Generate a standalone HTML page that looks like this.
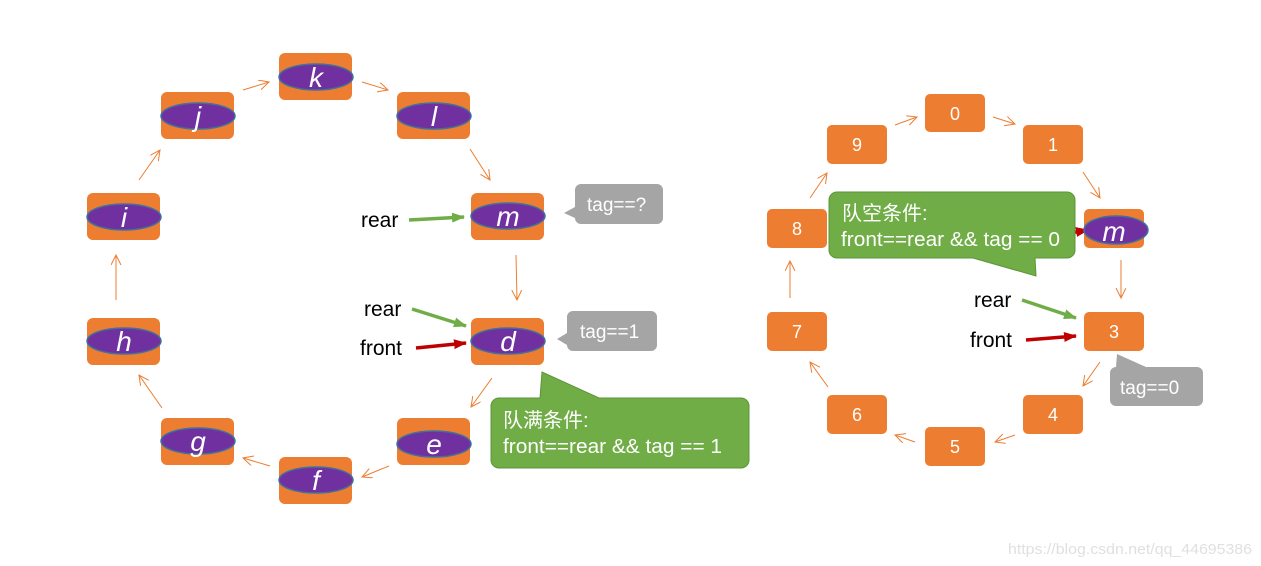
<!DOCTYPE html>
<html><head><meta charset="utf-8"><style>
body{margin:0;background:#fff}
svg{display:block}
.t{font-family:"Liberation Sans","Noto Sans CJK SC",sans-serif}
</style></head><body>
<svg width="1261" height="566" viewBox="0 0 1261 566" xmlns="http://www.w3.org/2000/svg">
<defs>
<marker id="oa" markerWidth="12" markerHeight="12" refX="10" refY="5" orient="auto" markerUnits="userSpaceOnUse"><polyline points="0,0 10,5 0,10" fill="none" stroke="#ED7D31" stroke-width="1"/></marker>
<marker id="ga" markerWidth="14" markerHeight="12" refX="12" refY="5" orient="auto" markerUnits="userSpaceOnUse"><polygon points="0,0 13,5 0,10" fill="#70AD47"/></marker>
<marker id="ra" markerWidth="14" markerHeight="12" refX="12" refY="5" orient="auto" markerUnits="userSpaceOnUse"><polygon points="0,0 13,5 0,10" fill="#C00000"/></marker>
</defs>
<g fill="#ED7D31">
<rect x="279" y="53" width="73" height="47" rx="6"/>
<rect x="161" y="92" width="73" height="47" rx="6"/>
<rect x="397" y="92" width="73" height="47" rx="6"/>
<rect x="87" y="193" width="73" height="47" rx="6"/>
<rect x="471" y="193" width="73" height="47" rx="6"/>
<rect x="87" y="318" width="73" height="47" rx="6"/>
<rect x="471" y="318" width="73" height="47" rx="6"/>
<rect x="161" y="418" width="73" height="47" rx="6"/>
<rect x="397" y="418" width="73" height="47" rx="6"/>
<rect x="279" y="457" width="73" height="47" rx="6"/>
</g>
<g fill="#7030A0" stroke="#41719C" stroke-width="1.5">
<ellipse cx="316" cy="77" rx="37" ry="13"/>
<ellipse cx="198" cy="116" rx="37" ry="13"/>
<ellipse cx="434" cy="116" rx="37" ry="13"/>
<ellipse cx="124" cy="217" rx="37" ry="13"/>
<ellipse cx="508" cy="216" rx="37" ry="13"/>
<ellipse cx="124" cy="341" rx="37" ry="13"/>
<ellipse cx="508" cy="341" rx="37" ry="13"/>
<ellipse cx="198" cy="441" rx="37" ry="13"/>
<ellipse cx="434" cy="444" rx="37" ry="13"/>
<ellipse cx="316" cy="480" rx="37" ry="13"/>
</g>
<g class="t" fill="#fff" font-size="28" font-style="italic" text-anchor="middle">
<text x="316" y="87">k</text><text x="198" y="126">j</text><text x="434" y="126">l</text>
<text x="124" y="227">i</text><text x="508" y="226">m</text><text x="124" y="351">h</text>
<text x="508" y="351">d</text><text x="198" y="451">g</text><text x="434" y="454">e</text>
<text x="316" y="490">f</text>
</g>
<g stroke="#ED7D31" stroke-width="1" fill="none" marker-end="url(#oa)">
<line x1="243" y1="90" x2="269" y2="82"/>
<line x1="362" y1="82" x2="388" y2="90"/>
<line x1="470" y1="149" x2="490" y2="180"/>
<line x1="139" y1="180" x2="160" y2="150"/>
<line x1="516" y1="255" x2="517" y2="300"/>
<line x1="116" y1="300" x2="116" y2="255"/>
<line x1="162" y1="408" x2="139" y2="375"/>
<line x1="492" y1="378" x2="471" y2="407"/>
<line x1="270" y1="466" x2="243" y2="458"/>
<line x1="389" y1="466" x2="362" y2="477"/>
</g>
<line x1="409" y1="220" x2="464" y2="217" stroke="#70AD47" stroke-width="3.5" marker-end="url(#ga)"/>
<line x1="412" y1="309" x2="466" y2="326" stroke="#70AD47" stroke-width="3.5" marker-end="url(#ga)"/>
<line x1="416" y1="348" x2="466" y2="343" stroke="#C00000" stroke-width="3.5" marker-end="url(#ra)"/>
<g class="t" font-size="21" fill="#000">
<text x="361" y="227">rear</text><text x="364" y="316">rear</text><text x="360" y="355">front</text>
</g>
<path d="M581,184 H657 a6,6 0 0 1 6,6 V218 a6,6 0 0 1 -6,6 H581 a6,6 0 0 1 -6,-6 V218 L564,213 L575,207 V190 a6,6 0 0 1 6,-6Z" fill="#A5A5A5"/>
<path d="M573,311 H651 a6,6 0 0 1 6,6 V345 a6,6 0 0 1 -6,6 H573 a6,6 0 0 1 -6,-6 V345 L557,339 L567,333 V317 a6,6 0 0 1 6,-6Z" fill="#A5A5A5"/>
<g class="t" font-size="19" fill="#fff"><text x="587" y="211">tag==?</text><text x="580" y="338">tag==1</text></g>
<path d="M499,398 H540 L542,372 L599,398 H741 a8,8 0 0 1 8,8 V460 a8,8 0 0 1 -8,8 H499 a8,8 0 0 1 -8,-8 V406 a8,8 0 0 1 8,-8Z" fill="#70AD47" stroke="#5E9438" stroke-width="1"/>
<g class="t" font-size="20" fill="#fff"><text x="503" y="427">队满条件:</text><text x="503" y="453" textLength="219" lengthAdjust="spacingAndGlyphs">front==rear &amp;&amp; tag == 1</text></g>

<g fill="#ED7D31">
<rect x="925" y="94" width="60" height="38" rx="5"/>
<rect x="827" y="125" width="60" height="39" rx="5"/>
<rect x="1023" y="125" width="60" height="39" rx="5"/>
<rect x="767" y="209" width="60" height="39" rx="5"/>
<rect x="1084" y="209" width="60" height="39" rx="5"/>
<rect x="767" y="312" width="60" height="39" rx="5"/>
<rect x="1084" y="312" width="60" height="39" rx="5"/>
<rect x="827" y="395" width="60" height="39" rx="5"/>
<rect x="1023" y="395" width="60" height="39" rx="5"/>
<rect x="925" y="427" width="60" height="39" rx="5"/>
</g>
<g class="t" fill="#fff" font-size="18" text-anchor="middle">
<text x="955" y="120">0</text><text x="857" y="151">9</text><text x="1053" y="151">1</text>
<text x="797" y="235">8</text><text x="797" y="338">7</text><text x="1114" y="338">3</text>
<text x="857" y="421">6</text><text x="1053" y="421">4</text><text x="955" y="453">5</text>
</g>
<g stroke="#ED7D31" stroke-width="1" fill="none" marker-end="url(#oa)">
<line x1="895" y1="125" x2="917" y2="117"/>
<line x1="993" y1="117" x2="1015" y2="124"/>
<line x1="1083" y1="172" x2="1100" y2="198"/>
<line x1="810" y1="198" x2="827" y2="173"/>
<line x1="1121" y1="260" x2="1121" y2="298"/>
<line x1="790" y1="298" x2="790" y2="261"/>
<line x1="828" y1="387" x2="810" y2="362"/>
<line x1="1100" y1="362" x2="1083" y2="386"/>
<line x1="915" y1="442" x2="895" y2="435"/>
<line x1="1015" y1="435" x2="995" y2="442"/>
</g>
<line x1="1070" y1="233" x2="1088" y2="230" stroke="#C00000" stroke-width="3.5" marker-end="url(#ra)"/>
<ellipse cx="1116" cy="230" rx="32" ry="14" fill="#7030A0" stroke="#41719C" stroke-width="1.5"/>
<text class="t" x="1114" y="241" fill="#fff" font-size="28" font-style="italic" text-anchor="middle">m</text>
<path d="M837,192 H1067 a8,8 0 0 1 8,8 V250 a8,8 0 0 1 -8,8 H1035 L1036,276 L973,258 H837 a8,8 0 0 1 -8,-8 V200 a8,8 0 0 1 8,-8Z" fill="#70AD47" stroke="#5E9438" stroke-width="1"/>
<g class="t" font-size="20" fill="#fff"><text x="842" y="220">队空条件:</text><text x="841" y="246" textLength="219" lengthAdjust="spacingAndGlyphs">front==rear &amp;&amp; tag == 0</text></g>
<line x1="1022" y1="300" x2="1076" y2="318" stroke="#70AD47" stroke-width="3.5" marker-end="url(#ga)"/>
<line x1="1026" y1="340" x2="1076" y2="336" stroke="#C00000" stroke-width="3.5" marker-end="url(#ra)"/>
<g class="t" font-size="21" fill="#000"><text x="974" y="307">rear</text><text x="970" y="347">front</text></g>
<path d="M1116,367 H1197 a6,6 0 0 1 6,6 V400 a6,6 0 0 1 -6,6 H1116 a6,6 0 0 1 -6,-6 V373 a6,6 0 0 1 6,-6 H1146 L1117,354Z" fill="#A5A5A5"/>
<text class="t" x="1120" y="394" font-size="19" fill="#fff">tag==0</text>
<text class="t" x="1008" y="554" font-size="15" fill="#e0e0e0" textLength="244" lengthAdjust="spacingAndGlyphs">https://blog.csdn.net/qq_44695386</text>
</svg>
</body></html>
